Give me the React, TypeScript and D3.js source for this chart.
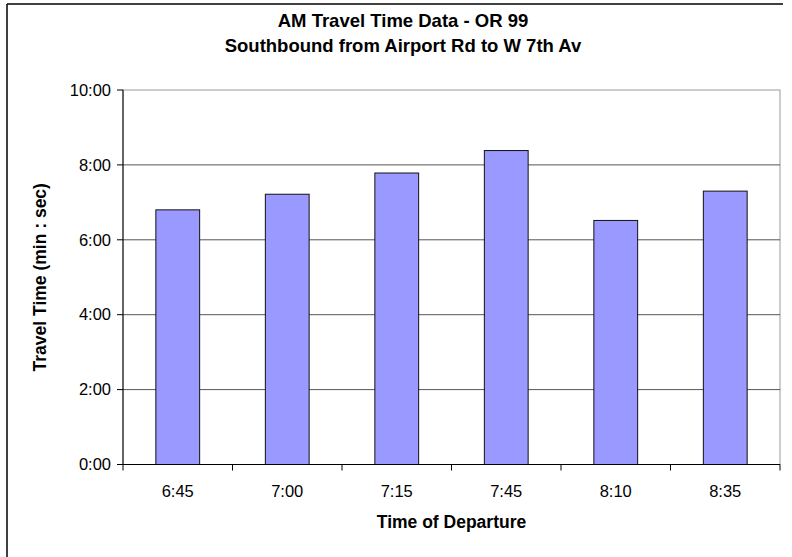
import React from "react";
import * as d3 from "d3";

const categories = ["6:45", "7:00", "7:15", "7:45", "8:10", "8:35"];
// travel time in seconds
const travelSeconds = [408, 433, 467, 503, 391, 438];
const yTicks = [0, 120, 240, 360, 480, 600];
const titleLines = ["AM Travel Time Data - OR 99", "Southbound from Airport Rd to W 7th Av"];
const xTitle = "Time of Departure";
const yTitle = "Travel Time (min : sec)";

const W = 792;
const H = 557;
const margin = { left: 123, right: 12, top: 90, bottom: 92.5 };
const FONT = "Arial, 'Liberation Sans', sans-serif";

function fmt(s: number) {
  const m = Math.floor(s / 60);
  const sec = s % 60;
  return `${m}:${sec < 10 ? "0" + sec : sec}`;
}

export default function App() {
  const x0 = margin.left;
  const x1 = W - margin.right;
  const y0 = H - margin.bottom;
  const y1 = margin.top;
  const x = d3.scaleBand<string>().domain(categories).range([x0, x1]).paddingInner(0.6).paddingOuter(0.3);
  const xb = d3.scaleBand<string>().domain(categories).range([x0, x1]);
  const y = d3.scaleLinear().domain([0, 600]).range([y0, y1]);

  return (
    <svg width={W} height={H} style={{ position: "absolute", left: 0, top: 0, background: "#fff" }}>
      <rect x={0} y={0} width={W} height={H} fill="#fff" />
      {/* outer border (left & top) */}
      <line x1={7} y1={4} x2={783} y2={4} stroke="#000" strokeWidth={1.5} />
      <line x1={7} y1={4} x2={7} y2={H} stroke="#000" strokeWidth={1.5} />

      {/* plot area border */}
      <rect x={x0} y={y1} width={x1 - x0} height={y0 - y1} fill="#fff" stroke="#9a9a9a" strokeWidth={1} />

      {/* gridlines */}
      {yTicks.filter((t) => t > 0 && t < 600).map((t) => (
        <line key={t} x1={x0} x2={x1} y1={y(t)} y2={y(t)} stroke="#555" strokeWidth={1} />
      ))}

      {/* bars */}
      {categories.map((c, i) => (
        <rect
          key={c}
          x={x(c)!}
          y={y(travelSeconds[i])}
          width={x.bandwidth()}
          height={y0 - y(travelSeconds[i])}
          fill="#9999FF"
          stroke="#111"
          strokeWidth={1}
        />
      ))}

      {/* y axis */}
      <line x1={x0} x2={x0} y1={y1} y2={y0} stroke="#000" strokeWidth={1} />
      {yTicks.map((t) => (
        <g key={t}>
          <line x1={x0 - 6} x2={x0} y1={y(t)} y2={y(t)} stroke="#000" strokeWidth={1} />
          <text x={x0 - 12} y={y(t)} dy="0.35em" textAnchor="end" fontFamily={FONT} fontSize={16.5} fill="#000">
            {fmt(t)}
          </text>
        </g>
      ))}

      {/* x axis */}
      <line x1={x0} x2={x1} y1={y0} y2={y0} stroke="#000" strokeWidth={1} />
      {categories.map((c) => (
        <line key={"t" + c} x1={xb(c)!} x2={xb(c)!} y1={y0} y2={y0 + 6} stroke="#000" strokeWidth={1} />
      ))}
      <line x1={x1} x2={x1} y1={y0} y2={y0 + 6} stroke="#000" strokeWidth={1} />
      {categories.map((c) => (
        <text
          key={"l" + c}
          x={xb(c)! + xb.bandwidth() / 2}
          y={y0 + 32}
          textAnchor="middle"
          fontFamily={FONT}
          fontSize={16.5}
          fill="#000"
        >
          {c}
        </text>
      ))}

      {/* axis titles */}
      <text x={(x0 + x1) / 2} y={527.5} textAnchor="middle" fontFamily={FONT} fontWeight="bold" fontSize={17.5} fill="#000">
        {xTitle}
      </text>
      <text
        transform={`translate(46, ${(y0 + y1) / 2}) rotate(-90)`}
        textAnchor="middle"
        fontFamily={FONT}
        fontWeight="bold"
        fontSize={17.5}
        fill="#000"
      >
        {yTitle}
      </text>

      {/* title */}
      {titleLines.map((t, i) => (
        <text key={i} x={403} y={27 + i * 25} textAnchor="middle" fontFamily={FONT} fontWeight="bold" fontSize={18.5} fill="#000">
          {t}
        </text>
      ))}
    </svg>
  );
}
